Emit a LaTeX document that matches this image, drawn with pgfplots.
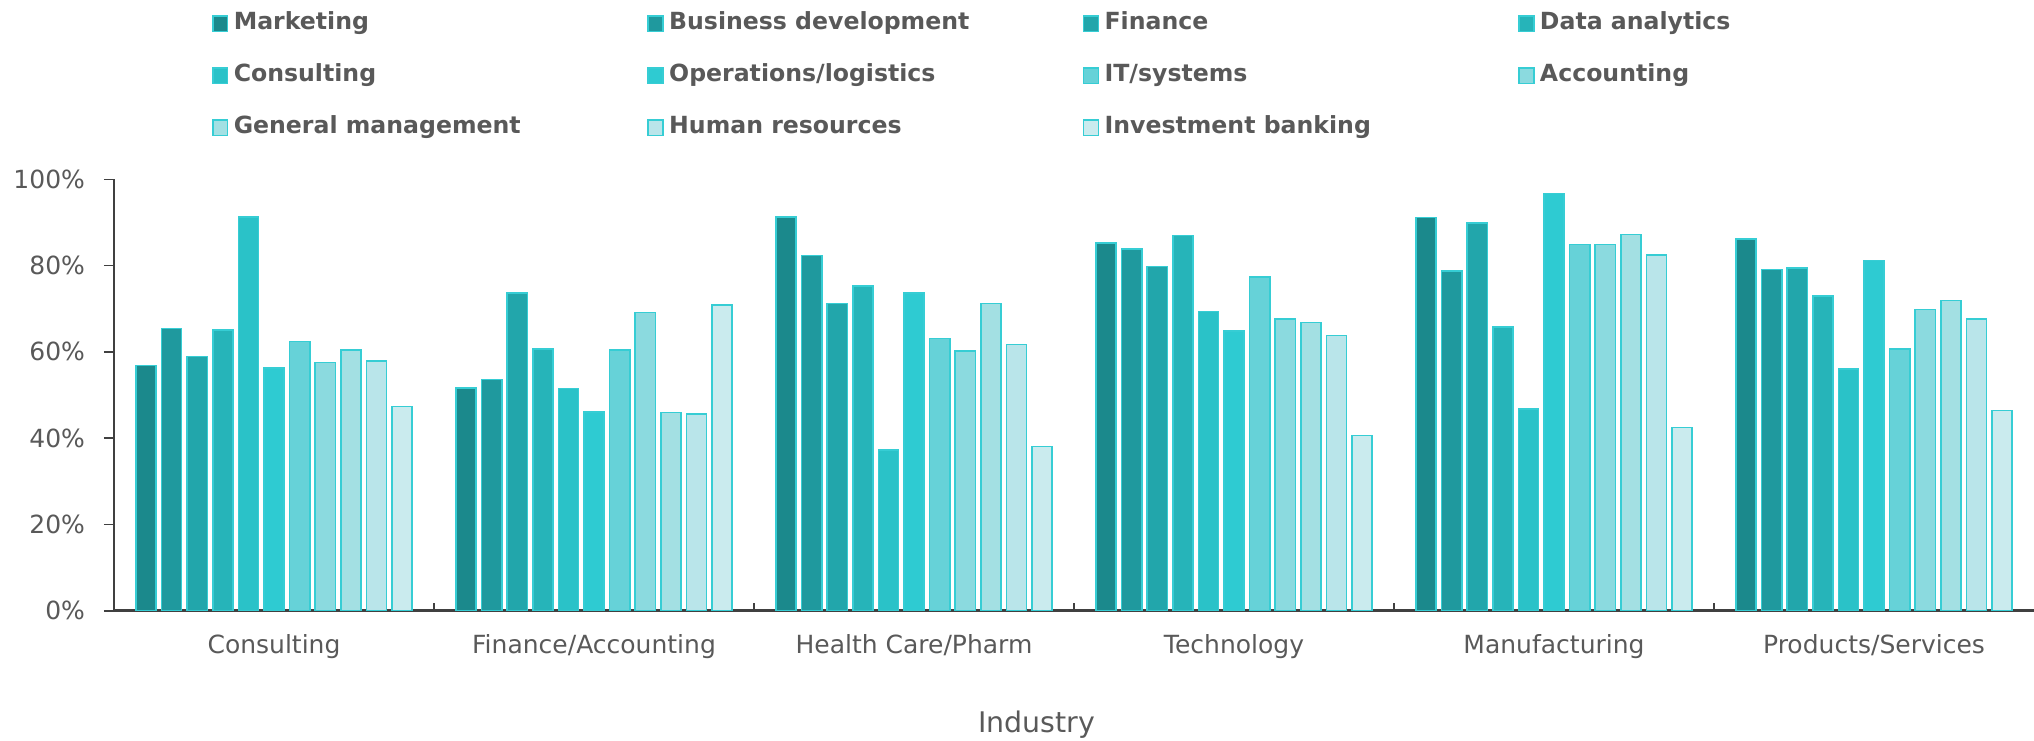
\documentclass[border=0pt]{standalone}
\usepackage{fontspec}
\setmainfont{DejaVu Sans}
\usepackage{pgfplots}
\usepackage{pgfplotstable}
\pgfplotsset{compat=1.18}
\definecolor{txt}{HTML}{595959}
\definecolor{axl}{HTML}{404040}
\definecolor{bd}{HTML}{36CDD4}
\definecolor{c1}{HTML}{1B898C}
\definecolor{c2}{HTML}{1F999E}
\definecolor{c3}{HTML}{22A6AB}
\definecolor{c4}{HTML}{26B4B9}
\definecolor{c5}{HTML}{2AC2C8}
\definecolor{c6}{HTML}{2ECBD2}
\definecolor{c7}{HTML}{66D2D8}
\definecolor{c8}{HTML}{8BDADF}
\definecolor{c9}{HTML}{A3E0E3}
\definecolor{c10}{HTML}{B9E5EA}
\definecolor{c11}{HTML}{CAEBEE}
\newcommand\lt[1]{\makebox[206.5pt][l]{\hspace{1.2pt}#1}}
\pgfplotstableread{
x mkt bd fin da con ops it acc gm hr ib
0 56.8 65.4 58.9 65.0 91.2 56.3 62.4 57.5 60.4 57.9 47.3
1 51.6 53.6 73.6 60.7 51.5 46.1 60.5 69.1 45.9 45.6 70.9
2 91.3 82.3 71.2 75.2 37.2 73.6 63.1 60.2 71.2 61.7 38.1
3 85.2 83.8 79.8 87.0 69.4 64.8 77.3 67.6 66.8 63.8 40.6
4 91.1 78.7 89.9 65.7 46.7 96.7 84.9 84.9 87.2 82.4 42.5
5 86.2 79.1 79.4 72.9 56.0 81.2 60.6 69.8 71.9 67.6 46.4
}\data
\begin{document}
\begin{tikzpicture}
\path[use as bounding box] (0,0) rectangle (1017pt,370pt);
\begin{axis}[
  at={(57pt,64.65pt)}, anchor=south west,
  scale only axis, width=960pt, height=215.7pt,
  ybar=2.7pt, bar width=10.1pt,
  xmin=-0.5, xmax=5.5, ymin=0, ymax=100,
  axis lines*=left,
  x axis line style={line width=1.5pt, axl},
  y axis line style={line width=0.8pt, axl},
  xtick={0,...,5},
  xticklabels={Consulting, Finance/Accounting, Health Care/Pharm, Technology, Manufacturing, Products/Services},
  minor xtick={0.5,1.5,2.5,3.5,4.5},
  ytick={0,20,...,100},
  yticklabel={\pgfmathprintnumber{\tick}\%},
  /pgf/number format/assume math mode=true,
  tick align=inside,
  major x tick style={draw=none},
  minor x tick style={axl, line width=0.8pt},
  minor tick length=4pt,
  major tick length=5pt,
  y tick style={axl, line width=0.8pt, xshift=-5pt},
  tick label style={font=\fontsize{12.5}{14}\selectfont, text=txt},
  yticklabel style={xshift=-11pt},
  xticklabel style={yshift=-8.5pt},
  xlabel={Industry},
  xlabel style={at={(rel axis cs:0.4807,0)}, anchor=center, yshift=-57pt, font=\fontsize{14.2}{16}\selectfont, text=txt},
  legend columns=4,
  legend style={draw=none, fill=none, at={(0,1)}, anchor=north west, xshift=49pt, yshift=85.2pt,
    inner sep=0pt, outer sep=0pt,
    nodes={inner sep=1.5pt, text height=9pt, text depth=3pt, font=\fontsize{11.8}{14}\selectfont\bfseries, text=txt},
    /tikz/every even column/.append style={column sep=0pt}, row sep=11pt},
  legend image code/.code={\draw[#1, line width=0.8pt] (0pt,-3.8pt) rectangle (7.4pt,3.8pt);},
  every axis plot/.append style={draw=bd, line width=0.8pt},
]
\addplot[fill=c1] table[x=x,y=mkt]{\data}; \addlegendentry{\lt{Marketing}}
\addplot[fill=c2] table[x=x,y=bd]{\data}; \addlegendentry{\lt{Business development}}
\addplot[fill=c3] table[x=x,y=fin]{\data}; \addlegendentry{\lt{Finance}}
\addplot[fill=c4] table[x=x,y=da]{\data}; \addlegendentry{\lt{Data analytics}}
\addplot[fill=c5] table[x=x,y=con]{\data}; \addlegendentry{\lt{Consulting}}
\addplot[fill=c6] table[x=x,y=ops]{\data}; \addlegendentry{\lt{Operations/logistics}}
\addplot[fill=c7] table[x=x,y=it]{\data}; \addlegendentry{\lt{IT/systems}}
\addplot[fill=c8] table[x=x,y=acc]{\data}; \addlegendentry{\lt{Accounting}}
\addplot[fill=c9] table[x=x,y=gm]{\data}; \addlegendentry{\lt{General management}}
\addplot[fill=c10] table[x=x,y=hr]{\data}; \addlegendentry{\lt{Human resources}}
\addplot[fill=c11] table[x=x,y=ib]{\data}; \addlegendentry{\lt{Investment banking}}
\end{axis}
\end{tikzpicture}
\end{document}
